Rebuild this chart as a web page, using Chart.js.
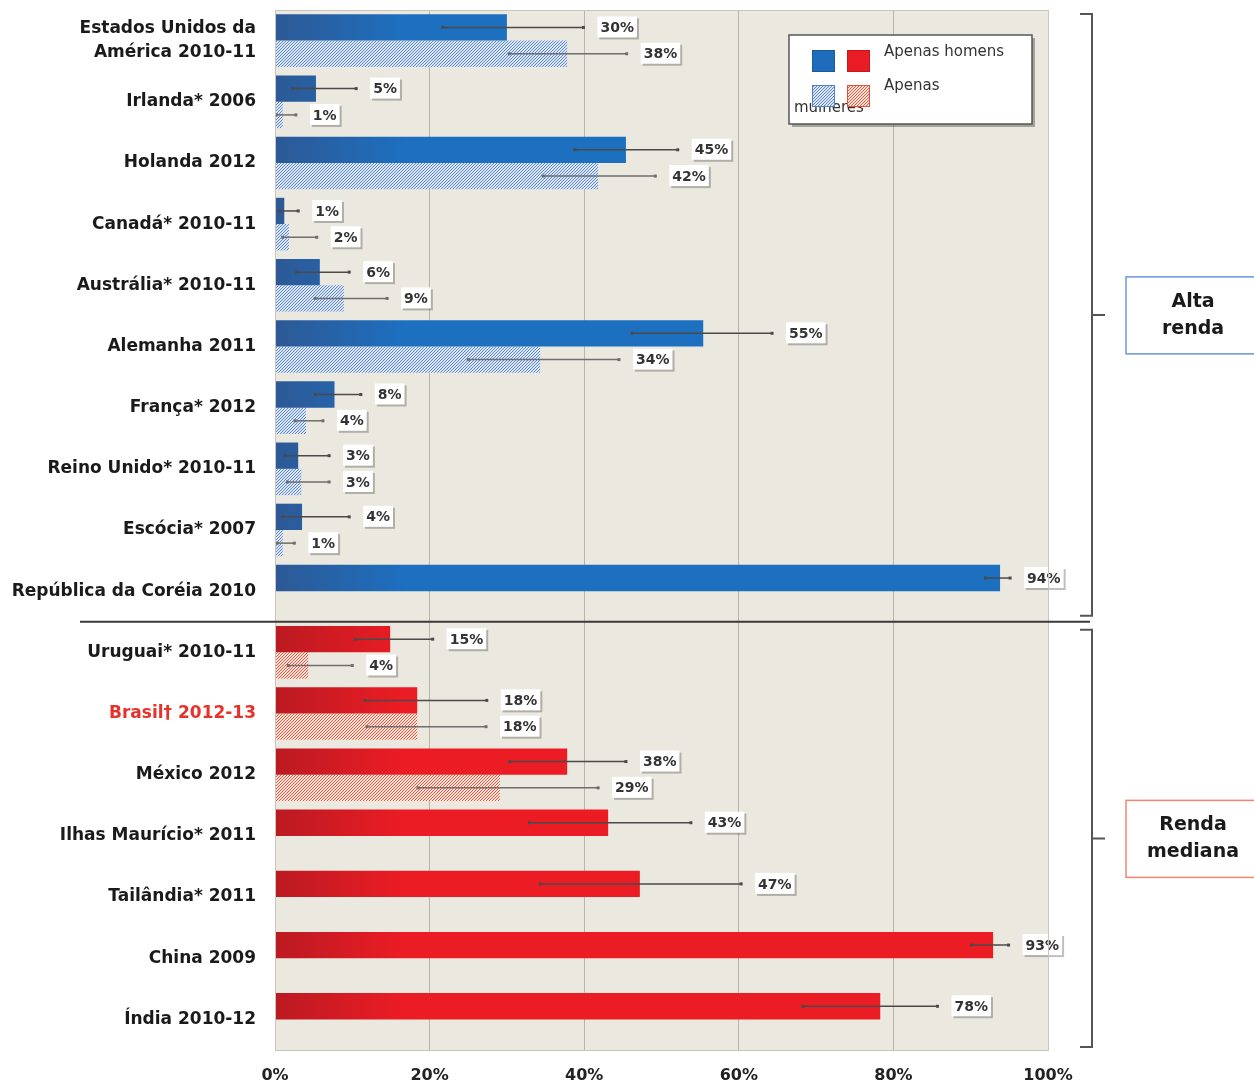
<!DOCTYPE html>
<html>
<head>
<meta charset="utf-8">
<script src="https://cdn.jsdelivr.net/npm/chart.js@4"></script>
<style>
  body { margin: 0; background: #fff; }
  canvas { display: block; }
</style>
</head>
<body>
<canvas id="chart" width="1254" height="1084"></canvas>
<script>
// categories and values (percent)
const categories = [
  ["Estados Unidos da", "América 2010-11"], "Irlanda* 2006", "Holanda 2012", "Canadá* 2010-11",
  "Austrália* 2010-11", "Alemanha 2011", "França* 2012", "Reino Unido* 2010-11", "Escócia* 2007",
  "República da Coréia 2010", "Uruguai* 2010-11", "Brasil† 2012-13", "México 2012",
  "Ilhas Maurício* 2011", "Tailândia* 2011", "China 2009", "Índia 2010-12"
];
const highIncomeCount = 10; // first 10 rows are "Alta renda"

const menValues = [30, 5.3, 45.4, 1.2, 5.8, 55.4, 7.7, 3, 3.5, 93.8, 14.9, 18.4, 37.8, 43.1, 47.2, 92.9, 78.3];
const womenValues = [37.8, 1, 41.8, 1.8, 8.9, 34.3, 4, 3.4, 1, null, 4.3, 18.4, 29.1, null, null, null, null];

// confidence intervals
const menLow = [21.7, 2.3, 38.8, 0.6, 2.8, 46.2, 5.2, 1.3, 1.0, 91.9, 10.4, 11.6, 30.4, 32.9, 34.3, 90.1, 68.3];
const menHigh = [39.9, 10.5, 52.1, 3.0, 9.6, 64.3, 11.1, 7.0, 9.6, 95.1, 20.4, 27.4, 45.4, 53.8, 60.3, 94.9, 85.7];
const womenLow = [30.3, 0.2, 34.7, 1.0, 5.2, 25.0, 2.6, 1.6, 0.3, null, 1.7, 11.9, 18.5, null, null, null, null];
const womenHigh = [45.5, 2.7, 49.2, 5.4, 14.5, 44.5, 6.2, 7.0, 2.5, null, 10.0, 27.3, 41.8, null, null, null, null];

const xTicks = [0, 20, 40, 60, 80, 100];

const FONT = "'DejaVu Sans', sans-serif";

function hatch(bg, line) {
  const c = document.createElement("canvas");
  c.width = 3; c.height = 3;
  const g = c.getContext("2d");
  g.fillStyle = bg; g.fillRect(0, 0, 3, 3);
  g.fillStyle = line;
  // diagonal dots -> fine hatch
  g.fillRect(0, 2, 1, 1); g.fillRect(1, 1, 1, 1); g.fillRect(2, 0, 1, 1);
  return g.createPattern(c, "repeat");
}
const ctxEl = document.getElementById("chart").getContext("2d");
const blueHatch = hatch("#dce6f5", "#5b87cc");
const redHatch = hatch("#fde3da", "#f1573f");

function solidFill(context) {
  const chart = context.chart;
  const area = chart.chartArea;
  const red = context.dataIndex >= highIncomeCount;
  if (!area) return red ? "#ec1c24" : "#1f6fbf";
  const g = chart.ctx.createLinearGradient(area.left, 0, area.left + 130, 0);
  if (red) { g.addColorStop(0, "#bb1a22"); g.addColorStop(1, "#ec1c24"); }
  else { g.addColorStop(0, "#2d5995"); g.addColorStop(1, "#1d6fc0"); }
  return g;
}
function hatchFill(context) {
  return context.dataIndex >= highIncomeCount ? redHatch : blueHatch;
}

const decorations = {
  id: "decorations",
  beforeDraw(chart) {
    const { ctx, chartArea: a } = chart;
    ctx.save();
    ctx.fillStyle = "#ebe8df";
    ctx.fillRect(a.left, a.top, a.right - a.left, a.bottom - a.top);
    ctx.restore();
  },
  afterDatasetsDraw(chart) {
    const { ctx, chartArea: a, scales: { x, y } } = chart;
    const lows = [menLow, womenLow], highs = [menHigh, womenHigh];
    const values = [menValues, womenValues];
    ctx.save();
    // error bars
    [0, 1].forEach((d) => {
      const meta = chart.getDatasetMeta(d);
      meta.data.forEach((bar, i) => {
        if (values[d][i] == null) return;
        const x1 = x.getPixelForValue(lows[d][i]);
        const x2 = x.getPixelForValue(highs[d][i]);
        ctx.strokeStyle = d === 0 ? "#4a4a4a" : "#6e6e6e";
        ctx.lineWidth = 1.5;
        ctx.beginPath(); ctx.moveTo(x1, bar.y); ctx.lineTo(x2, bar.y); ctx.stroke();
        ctx.fillStyle = ctx.strokeStyle;
        ctx.fillRect(x1 - 1.5, bar.y - 1.5, 3, 3);
        ctx.fillRect(x2 - 1.5, bar.y - 1.5, 3, 3);
      });
    });
    // value labels
    ctx.font = "bold 14px " + FONT;
    ctx.textBaseline = "middle";
    [0, 1].forEach((d) => {
      const meta = chart.getDatasetMeta(d);
      meta.data.forEach((bar, i) => {
        const v = values[d][i];
        if (v == null) return;
        const txt = Math.round(v) + "%";
        const w = ctx.measureText(txt).width + 6;
        const left = Math.max(x.getPixelForValue(highs[d][i]), bar.x) + 14;
        const top = bar.y - 11;
        ctx.fillStyle = "rgba(0,0,0,0.25)";
        ctx.fillRect(left + 2, top + 2, w, 21);
        ctx.fillStyle = "#ffffff";
        ctx.fillRect(left, top, w, 21);
        ctx.fillStyle = "#333";
        ctx.textAlign = "left";
        ctx.fillText(txt, left + 3, bar.y + 1);
      });
    });
    ctx.restore();
  },
  afterDraw(chart) {
    const { ctx, chartArea: a, scales: { x, y } } = chart;
    ctx.save();
    // plot frame
    ctx.strokeStyle = "#c9c5ba"; ctx.lineWidth = 1;
    ctx.strokeRect(a.left + 0.5, a.top + 0.5, a.right - a.left, a.bottom - a.top);

    // separator between groups
    const sepY = (y.getPixelForValue(highIncomeCount - 1) + y.getPixelForValue(highIncomeCount)) / 2;
    ctx.strokeStyle = "#3a3a3a"; ctx.lineWidth = 2;
    ctx.beginPath(); ctx.moveTo(80, sepY); ctx.lineTo(1090, sepY); ctx.stroke();

    // brackets
    const bx = 1092;
    function bracket(t, b) {
      const m = (t + b) / 2;
      ctx.strokeStyle = "#555"; ctx.lineWidth = 2;
      ctx.beginPath();
      ctx.moveTo(bx - 12, t); ctx.lineTo(bx, t); ctx.lineTo(bx, b); ctx.lineTo(bx - 12, b);
      ctx.moveTo(bx, m); ctx.lineTo(bx + 13, m);
      ctx.stroke();
      return m;
    }
    const m1 = bracket(a.top + 4, sepY - 6);
    const m2 = bracket(sepY + 8, a.bottom - 3);

    function labelBox(mid, lines, border) {
      ctx.fillStyle = "#fff";
      ctx.fillRect(1126, mid - 38, 140, 77);
      ctx.strokeStyle = border; ctx.lineWidth = 1.5;
      ctx.strokeRect(1126, mid - 38, 140, 77);
      ctx.fillStyle = "#1a1a1a";
      ctx.font = "bold 19px " + FONT;
      ctx.textAlign = "center"; ctx.textBaseline = "middle";
      ctx.fillText(lines[0], 1193, mid - 13);
      ctx.fillText(lines[1], 1193, mid + 14);
    }
    labelBox(m1, ["Alta", "renda"], "#6b97da");
    labelBox(m2, ["Renda", "mediana"], "#f2866f");

    // legend
    const lx = a.left + 514, ly = a.top + 25;
    ctx.fillStyle = "rgba(0,0,0,0.3)";
    ctx.fillRect(lx + 3, ly + 3, 243, 89);
    ctx.fillStyle = "#fff";
    ctx.fillRect(lx, ly, 243, 89);
    ctx.strokeStyle = "#555"; ctx.lineWidth = 1.5;
    ctx.strokeRect(lx, ly, 243, 89);
    ctx.font = "15px " + FONT;
    ctx.fillStyle = "#333";
    ctx.textAlign = "left"; ctx.textBaseline = "middle";
    ctx.fillText("Apenas homens", lx + 95, ly + 17);
    ctx.fillText("Apenas", lx + 95, ly + 51);
    ctx.fillText("mulheres", lx + 5, ly + 73);
    const sw = [
      ["#1f6cbd", 23, 15], ["#e81c24", 58, 15], [blueHatch, 23, 50], [redHatch, 58, 50]
    ];
    sw.forEach(([fill, dx, dy]) => {
      ctx.fillStyle = fill;
      ctx.fillRect(lx + dx, ly + dy, 23, 22);
      ctx.strokeStyle = dy > 20 ? (dx > 40 ? "#e8503a" : "#4f80c8") : "rgba(0,0,0,0.15)";
      ctx.lineWidth = 1;
      ctx.strokeRect(lx + dx + 0.5, ly + dy + 0.5, 22, 21);
    });
    ctx.restore();
  }
};

new Chart(ctxEl, {
  type: "bar",
  data: {
    labels: categories,
    datasets: [
      {
        label: "Apenas homens",
        data: menValues,
        backgroundColor: solidFill,
        categoryPercentage: 0.86,
        barPercentage: 1,
      },
      {
        label: "Apenas mulheres",
        data: womenValues,
        backgroundColor: hatchFill,
        categoryPercentage: 0.86,
        barPercentage: 1,
      },
    ],
  },
  options: {
    indexAxis: "y",
    responsive: false,
    animation: false,
    layout: { padding: { top: 10, right: 206, left: 0, bottom: 0 } },
    plugins: {
      legend: { display: false },
      tooltip: { enabled: false },
    },
    scales: {
      x: {
        min: 0,
        max: 100,
        afterBuildTicks(scale) {
          scale.ticks = xTicks.map((v) => ({ value: v }));
        },
        afterFit(scale) { scale.height = 34; },
        grid: { color: "#b9b5aa", drawTicks: false },
        border: { display: false },
        ticks: {
          padding: 16,
          color: "#222",
          font: { family: FONT, size: 16, weight: "bold" },
          callback: (v) => v + "%",
        },
      },
      y: {
        afterFit(scale) {
          scale.width = 275;
          scale.paddingTop = 0;
          scale.paddingBottom = 0;
        },
        grid: { display: false, drawTicks: false },
        border: { color: "#a9a59a" },
        ticks: {
          padding: 19,
          color: (c) => (c.index === 11 ? "#e8312b" : "#1a1a1a"),
          font: { family: FONT, size: 17, weight: "bold", lineHeight: 1.4 },
        },
      },
    },
  },
  plugins: [decorations],
});
</script>
</body>
</html>
